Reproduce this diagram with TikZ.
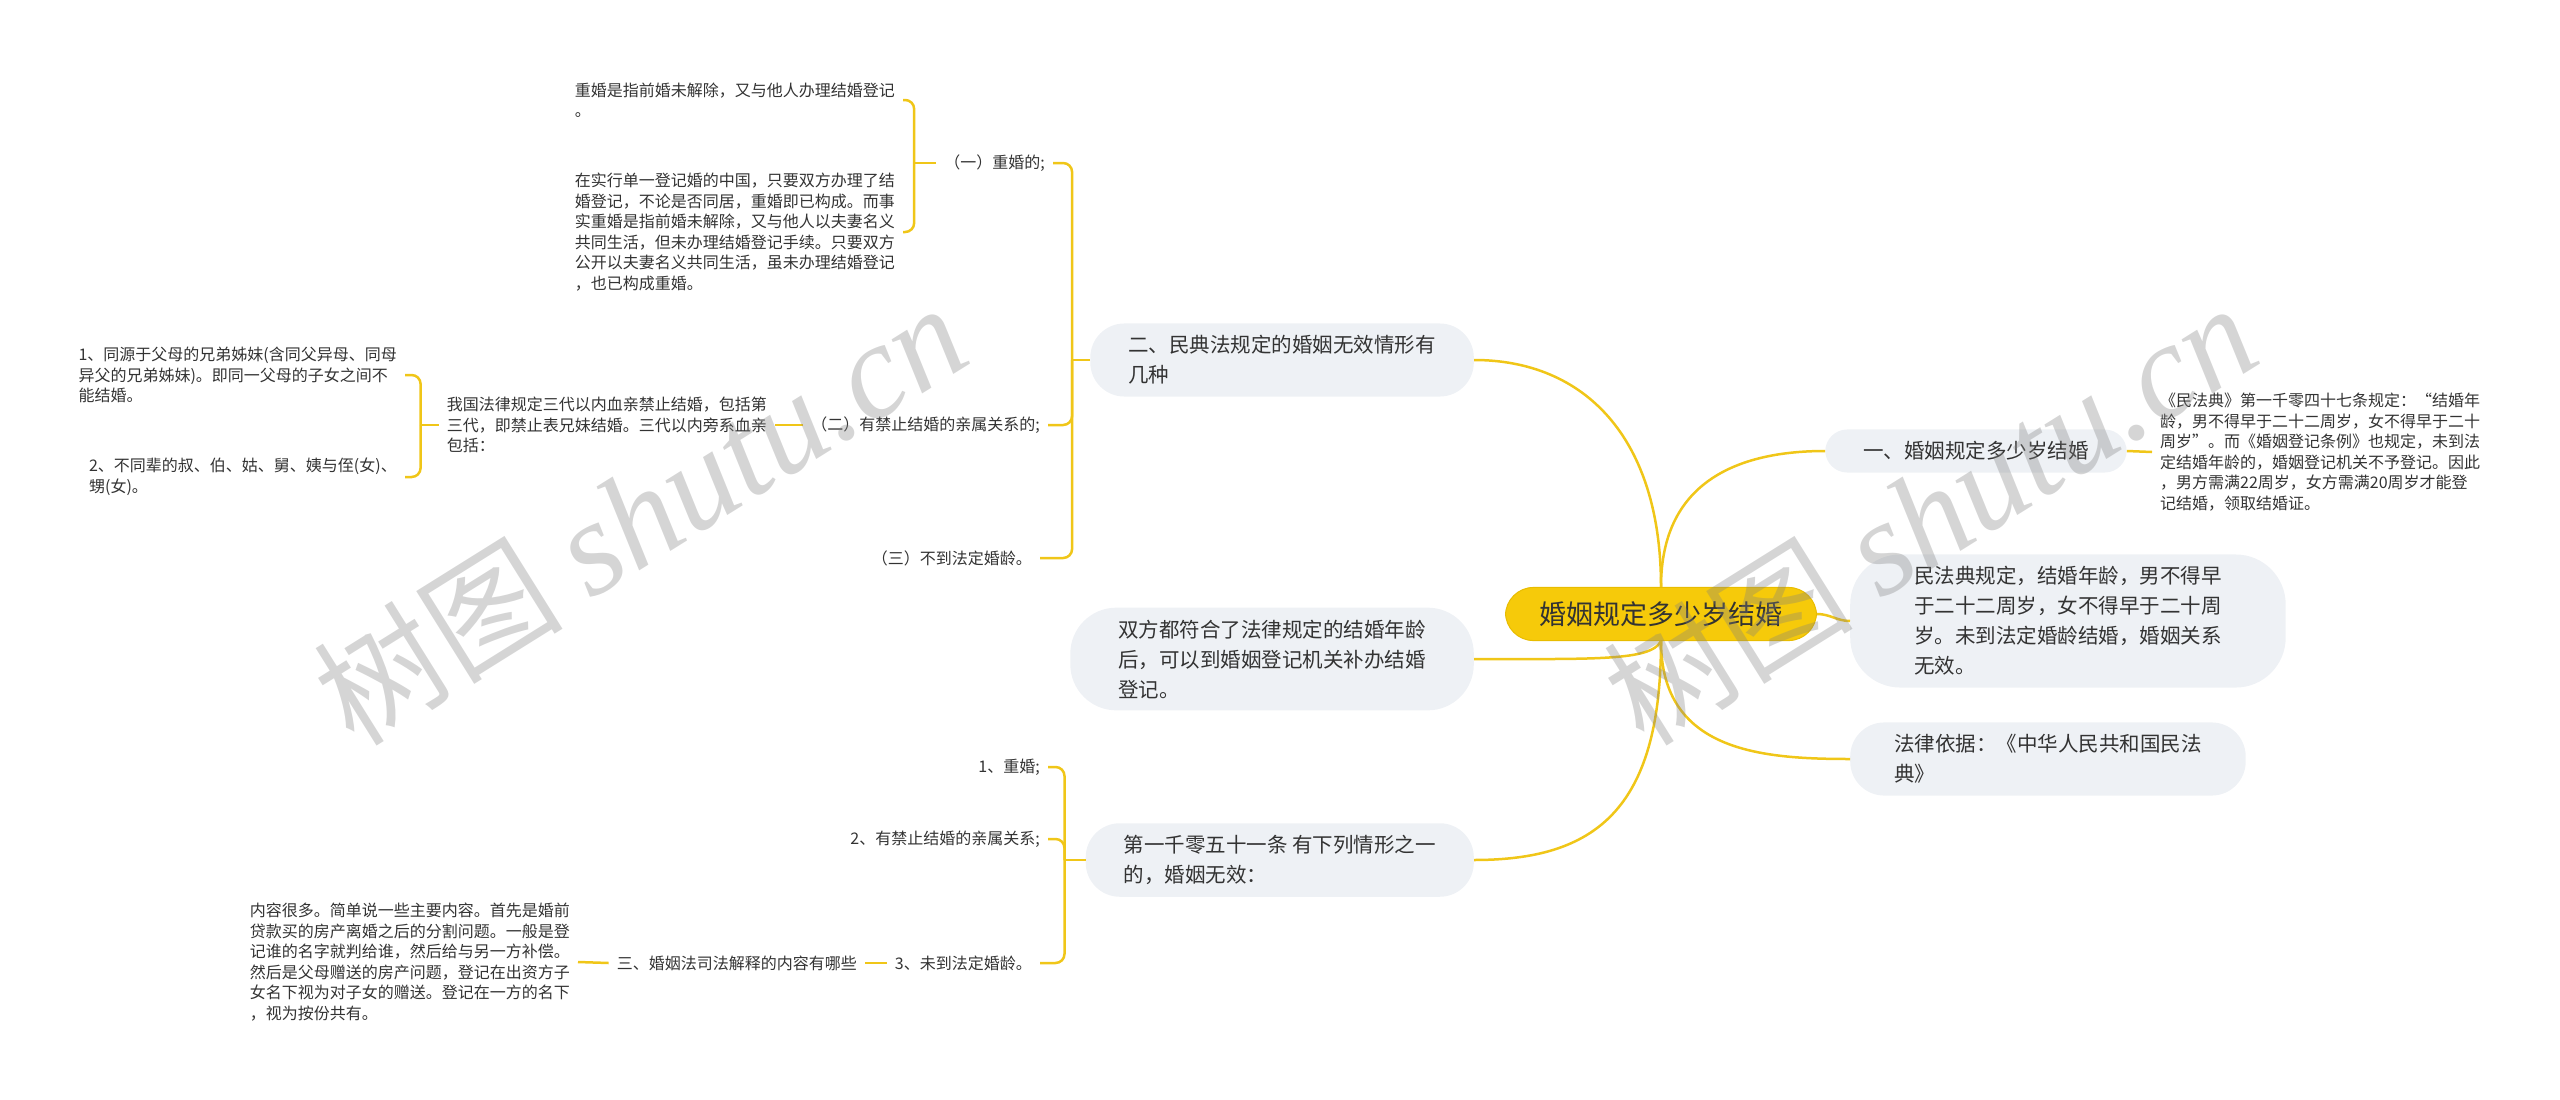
\documentclass[tikz,border=0pt]{standalone}
\usepackage{fontspec}
\setmainfont{Noto Sans CJK SC}
\newfontfamily\wmlatin{Liberation Serif}
\usetikzlibrary{positioning}
\definecolor{linkyel}{RGB}{240,198,24}
\definecolor{rootyel}{RGB}{246,202,10}
\definecolor{rootedge}{RGB}{232,188,0}
\definecolor{pillgray}{RGB}{238,241,245}
\definecolor{txtgray}{RGB}{51,51,51}

\begin{document}
\begin{tikzpicture}[x=1pt,y=-1pt,
  every node/.style={text=txtgray,align=left},
  root/.style={fill=rootyel,draw=rootedge,line width=1,rounded corners=28,inner xsep=34,inner ysep=14,font=\fontsize{27}{32}\selectfont},
  pill/.style={fill=pillgray,rounded corners=34,inner xsep=38,inner ysep=12,font=\fontsize{20.5}{30}\selectfont},
  leaf/.style={inner xsep=8,inner ysep=4,font=\fontsize{16}{20.5}\selectfont},
  link/.style={draw=linkyel,line width=2.5},
  brace/.style={link,rounded corners=9},
  wmark/.style={text=gray,opacity=0.33,rotate=32}]
  \useasboundingbox (0,0) rectangle (2560,1100);

  \node[root] (ctr) at (1661,614){婚姻规定多少岁结婚};

  \node[pill,rounded corners=22,anchor=west] (r1) at (1825,451){一、婚姻规定多少岁结婚};
  \node[leaf,anchor=west] (r1t) at (2152,452){《民法典》第一千零四十七条规定：“结婚年\\龄，男不得早于二十二周岁，女不得早于二十\\周岁”。而《婚姻登记条例》也规定，未到法\\定结婚年龄的，婚姻登记机关不予登记。因此\\，男方需满22周岁，女方需满20周岁才能登\\记结婚，领取结婚证。};
  \node[pill,rounded corners=50,inner xsep=64,anchor=west] (r2) at (1850,621){民法典规定，结婚年龄，男不得早\\于二十二周岁，女不得早于二十周\\岁。未到法定婚龄结婚，婚姻关系\\无效。};
  \node[pill,inner xsep=44,anchor=west] (r3) at (1850,759){法律依据：《中华人民共和国民法\\典》};

  \node[pill,anchor=east] (la) at (1474,360){二、民典法规定的婚姻无效情形有\\几种};
  \node[pill,rounded corners=46,inner xsep=48,anchor=east] (lb) at (1474,659){双方都符合了法律规定的结婚年龄\\后，可以到婚姻登记机关补办结婚\\登记。};
  \node[pill,anchor=east] (lc) at (1474,860){第一千零五十一条 有下列情形之一\\的，婚姻无效：};

  \node[leaf,anchor=east] (la1) at (1053,163){（一）重婚的;};
  \node[leaf,anchor=east] (la1a) at (903,100){重婚是指前婚未解除，又与他人办理结婚登记\\。};
  \node[leaf,anchor=east] (la1b) at (903,232){在实行单一登记婚的中国，只要双方办理了结\\婚登记，不论是否同居，重婚即已构成。而事\\实重婚是指前婚未解除，又与他人以夫妻名义\\共同生活，但未办理结婚登记手续。只要双方\\公开以夫妻名义共同生活，虽未办理结婚登记\\，也已构成重婚。};
  \node[leaf,anchor=east] (la2) at (1048,425){（二）有禁止结婚的亲属关系的;};
  \node[leaf,anchor=east] (la2t) at (775,425){我国法律规定三代以内血亲禁止结婚，包括第\\三代，即禁止表兄妹结婚。三代以内旁系血亲\\包括：};
  \node[leaf,anchor=east] (la2a) at (405,375){1、同源于父母的兄弟姊妹(含同父异母、同母\\异父的兄弟姊妹)。即同一父母的子女之间不\\能结婚。};
  \node[leaf,anchor=east] (la2b) at (405,477){2、不同辈的叔、伯、姑、舅、姨与侄(女)、\\甥(女)。};
  \node[leaf,anchor=east] (la3) at (1040,558){（三）不到法定婚龄。};

  \node[leaf,anchor=east] (lc1) at (1048,767){1、重婚;};
  \node[leaf,anchor=east] (lc2) at (1048,839){2、有禁止结婚的亲属关系;};
  \node[leaf,anchor=east] (lc3) at (1040,963){3、未到法定婚龄。};
  \node[leaf,anchor=east] (lc3t) at (865,963){三、婚姻法司法解释的内容有哪些};
  \node[leaf,anchor=east] (lc3tt) at (578,962){内容很多。简单说一些主要内容。首先是婚前\\贷款买的房产离婚之后的分割问题。一般是登\\记谁的名字就判给谁，然后给与另一方补偿。\\然后是父母赠送的房产问题，登记在出资方子\\女名下视为对子女的赠送。登记在一方的名下\\，视为按份共有。};

  \draw[link] (ctr.north) .. controls +(0,-150) and +(110,0) .. (la.east);
  \draw[link] (ctr.north) .. controls +(0,-110) and +(-80,0) .. (r1.west);
  \draw[link] (ctr.east) to[out=0,in=180] (r2.west);
  \draw[link] (ctr.south) .. controls +(0,110) and +(-90,0) .. (r3.west);
  \draw[link] (ctr.south) .. controls +(-10,20) and +(120,0) .. (lb.east);
  \draw[link] (ctr.south) .. controls +(0,170) and +(120,0) .. (lc.east);

  \draw[link] (r1.east) -- (r1t.west);

  \draw[link] (la.west) -- ++(-18,0) coordinate (la-j);
  \draw[brace] (la-j) |- (la1.east);
  \draw[brace] (la-j) |- (la2.east);
  \draw[brace] (la-j) |- (la3.east);

  \draw[link] (la1.west) -- ++(-22,0) coordinate (la1-j);
  \draw[brace] (la1-j) |- (la1a.east);
  \draw[brace] (la1-j) |- (la1b.east);

  \draw[link] (la2.west) -- (la2t.east);
  \draw[link] (la2t.west) -- ++(-18,0) coordinate (la2-j);
  \draw[brace] (la2-j) |- (la2a.east);
  \draw[brace] (la2-j) |- (la2b.east);

  \draw[link] (lc.west) -- ++(-21,0) coordinate (lc-j);
  \draw[brace] (lc-j) |- (lc1.east);
  \draw[brace] (lc-j) |- (lc2.east);
  \draw[brace] (lc-j) |- (lc3.east);
  \draw[link] (lc3.west) -- (lc3t.east);
  \draw[link] (lc3t.west) -- (lc3tt.east);

  \node[wmark] (wm1) at (640,514){\fontsize{125}{130}\selectfont 树图 {\wmlatin\itshape\fontsize{135}{140}\selectfont shutu.cn}};
  \node[wmark] (wm2) at (1930,514){\fontsize{125}{130}\selectfont 树图 {\wmlatin\itshape\fontsize{135}{140}\selectfont shutu.cn}};
\end{tikzpicture}
\end{document}
